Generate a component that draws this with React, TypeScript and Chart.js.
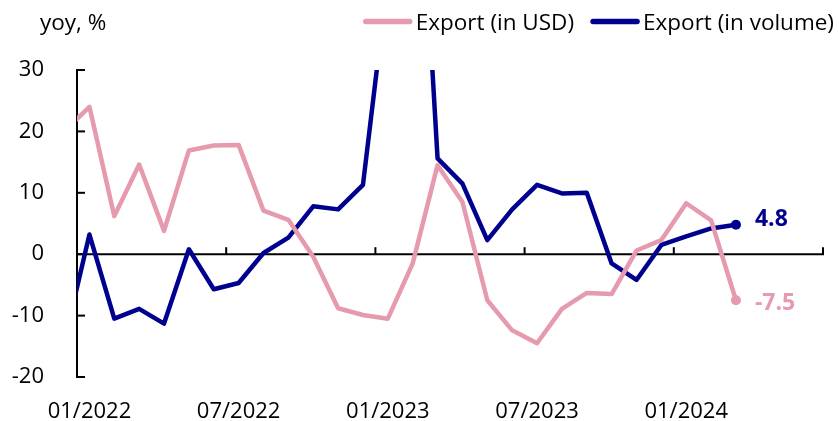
import React, { useEffect, useRef } from 'react';
import { Chart, registerables } from 'chart.js';

Chart.register(...registerables);

// ---- data ----
const months = [
  '12/2021',
  '01/2022', '02/2022', '03/2022', '04/2022', '05/2022', '06/2022',
  '07/2022', '08/2022', '09/2022', '10/2022', '11/2022', '12/2022',
  '01/2023', '02/2023', '03/2023', '04/2023', '05/2023', '06/2023',
  '07/2023', '08/2023', '09/2023', '10/2023', '11/2023', '12/2023',
  '01/2024', '02/2024', '03/2024',
];
const exportUsd = [
  20.1,
  24.0, 6.2, 14.6, 3.8, 16.9, 17.7,
  17.8, 7.1, 5.6, -0.4, -8.8, -9.9,
  -10.5, -1.5, 14.5, 8.5, -7.5, -12.4,
  -14.5, -8.9, -6.3, -6.5, 0.6, 2.3,
  8.3, 5.5, -7.5,
];
const exportVolume = [
  -14.1,
  3.2, -10.5, -8.9, -11.3, 0.8, -5.7,
  -4.7, 0.2, 2.7, 7.8, 7.3, 11.3,
  45.0, 85.0, 15.6, 11.5, 2.3, 7.3,
  11.3, 9.9, 10.0, -1.5, -4.2, 1.5,
  2.9, 4.2, 4.8,
];
const xTickLabels = ['01/2022', '07/2022', '01/2023', '07/2023', '01/2024'];
const seriesNames = ['Export (in USD)', 'Export (in volume)'];
const seriesColors = ['#E59AAD', '#00008F'];
const unitLabel = 'yoy, %';
const yMin = -20;
const yMax = 30;
const yStep = 10;
const monthsShown = 30; // x axis spans 30 monthly categories
const tickEvery = 6;

const FONT = "'Open Sans', 'Liberation Sans', sans-serif";

const toPoints = (vals: number[]) => vals.map((v, i) => ({ x: i - 0.5, y: v }));

const decorPlugin = {
  id: 'decor',
  beforeDatasetsDraw(chart: any) {
    const { ctx, chartArea: ca, scales } = chart;
    const x = scales.x;
    const y = scales.y;
    ctx.save();
    ctx.strokeStyle = '#000';
    ctx.lineWidth = 2;
    // vertical axis
    ctx.beginPath();
    ctx.moveTo(ca.left, y.getPixelForValue(y.max) - 1);
    ctx.lineTo(ca.left, y.getPixelForValue(y.min) + 1);
    ctx.stroke();
    y.ticks.forEach((t: any) => {
      const py = y.getPixelForValue(t.value);
      ctx.beginPath();
      ctx.moveTo(ca.left, py);
      ctx.lineTo(ca.left + 8, py);
      ctx.stroke();
    });
    // horizontal axis at zero
    const y0 = y.getPixelForValue(0);
    ctx.beginPath();
    ctx.moveTo(ca.left, y0);
    ctx.lineTo(ca.right + 1, y0);
    ctx.stroke();
    for (let b = x.min; b <= x.max; b += tickEvery) {
      const px = x.getPixelForValue(b);
      ctx.beginPath();
      ctx.moveTo(px, y0);
      ctx.lineTo(px, y0 - 7);
      ctx.stroke();
    }
    ctx.restore();
  },
  afterDatasetsDraw(chart: any) {
    const { ctx } = chart;
    ctx.save();
    chart.data.datasets.forEach((ds: any, di: number) => {
      const meta = chart.getDatasetMeta(di);
      const last = meta.data[meta.data.length - 1];
      const val = ds.data[ds.data.length - 1].y;
      ctx.font = `bold 23px ${FONT}`;
      ctx.fillStyle = ds.borderColor;
      ctx.textAlign = 'left';
      ctx.textBaseline = 'alphabetic';
      ctx.fillText(val.toFixed(1), last.x + 19, last.y + ds.labelDy);
    });
    ctx.restore();
  },
  afterDraw(chart: any) {
    const { ctx } = chart;
    ctx.save();
    ctx.font = `22.5px ${FONT}`;
    ctx.fillStyle = '#000';
    ctx.textBaseline = 'alphabetic';
    ctx.textAlign = 'left';
    const baseY = 29.5;
    ctx.fillText(unitLabel, 40, baseY);
    // legend, right aligned
    const lineLen = 50;
    const gapLineText = 3;
    const gapItems = 16;
    const items = chart.data.datasets.map((ds: any) => ({
      label: ds.label,
      color: ds.borderColor,
      w: ctx.measureText(ds.label).width,
    }));
    let total = 0;
    items.forEach((it: any, i: number) => {
      total += lineLen + gapLineText + it.w + (i > 0 ? gapItems : 0);
    });
    let cx = 834 - total;
    items.forEach((it: any, i: number) => {
      if (i > 0) cx += gapItems;
      ctx.strokeStyle = it.color;
      ctx.lineWidth = 5.5;
      ctx.lineCap = 'round';
      ctx.beginPath();
      ctx.moveTo(cx + 3, 21.5);
      ctx.lineTo(cx + lineLen - 3, 21.5);
      ctx.stroke();
      cx += lineLen + gapLineText;
      ctx.fillStyle = '#000';
      ctx.fillText(it.label, cx, baseY);
      cx += it.w;
    });
    ctx.restore();
  },
};

export default function App() {
  const ref = useRef<HTMLCanvasElement | null>(null);
  useEffect(() => {
    if (!ref.current) return;
    const lastIdx = months.length - 1;
    const chart = new Chart(ref.current, {
      type: 'line',
      data: {
        datasets: [
          {
            label: seriesNames[0],
            data: toPoints(exportUsd),
            borderColor: seriesColors[0],
            backgroundColor: seriesColors[0],
            borderWidth: 4.5,
            tension: 0,
            borderJoinStyle: 'round',
            pointRadius: (c: any) => (c.dataIndex === lastIdx ? 5 : 0),
            pointBackgroundColor: seriesColors[0],
            pointBorderWidth: 0,
            clip: 0,
            labelDy: 10,
          } as any,
          {
            label: seriesNames[1],
            data: toPoints(exportVolume),
            borderColor: seriesColors[1],
            backgroundColor: seriesColors[1],
            borderWidth: 4.5,
            tension: 0,
            borderJoinStyle: 'round',
            pointRadius: (c: any) => (c.dataIndex === lastIdx ? 5 : 0),
            pointBackgroundColor: seriesColors[1],
            pointBorderWidth: 0,
            clip: 0,
            labelDy: 1,
          } as any,
        ],
      },
      options: {
        animation: false,
        responsive: false,
        devicePixelRatio: 1,
        layout: { padding: { left: 0, right: 16, top: 70, bottom: 0 } },
        plugins: {
          legend: { display: false },
          tooltip: { enabled: false },
        },
        scales: {
          x: {
            type: 'linear',
            min: 0,
            max: monthsShown,
            grid: { display: false },
            border: { display: false },
            afterFit: (s: any) => { s.height = 44; },
            afterBuildTicks: (s: any) => {
              s.ticks = xTickLabels.map((l) => ({ value: months.indexOf(l) - 0.5 }));
            },
            ticks: {
              autoSkip: false,
              maxRotation: 0,
              padding: 14,
              color: '#000',
              font: { family: FONT, size: 22 },
              callback: (v: any) => months[Math.round(Number(v) + 0.5)],
            },
          },
          y: {
            min: yMin,
            max: yMax,
            grid: { display: false },
            border: { display: false },
            afterFit: (s: any) => { s.width = 77; },
            ticks: {
              stepSize: yStep,
              padding: 25,
              color: '#000',
              font: { family: FONT, size: 22 },
            },
          },
        },
      } as any,
      plugins: [decorPlugin],
    });
    return () => chart.destroy();
  }, []);
  return (
    <div style={{ position: 'fixed', left: 0, top: 0, width: 839, height: 421, background: '#fff' }}>
      <canvas ref={ref} width={839} height={421} style={{ width: 839, height: 421 }} />
    </div>
  );
}
